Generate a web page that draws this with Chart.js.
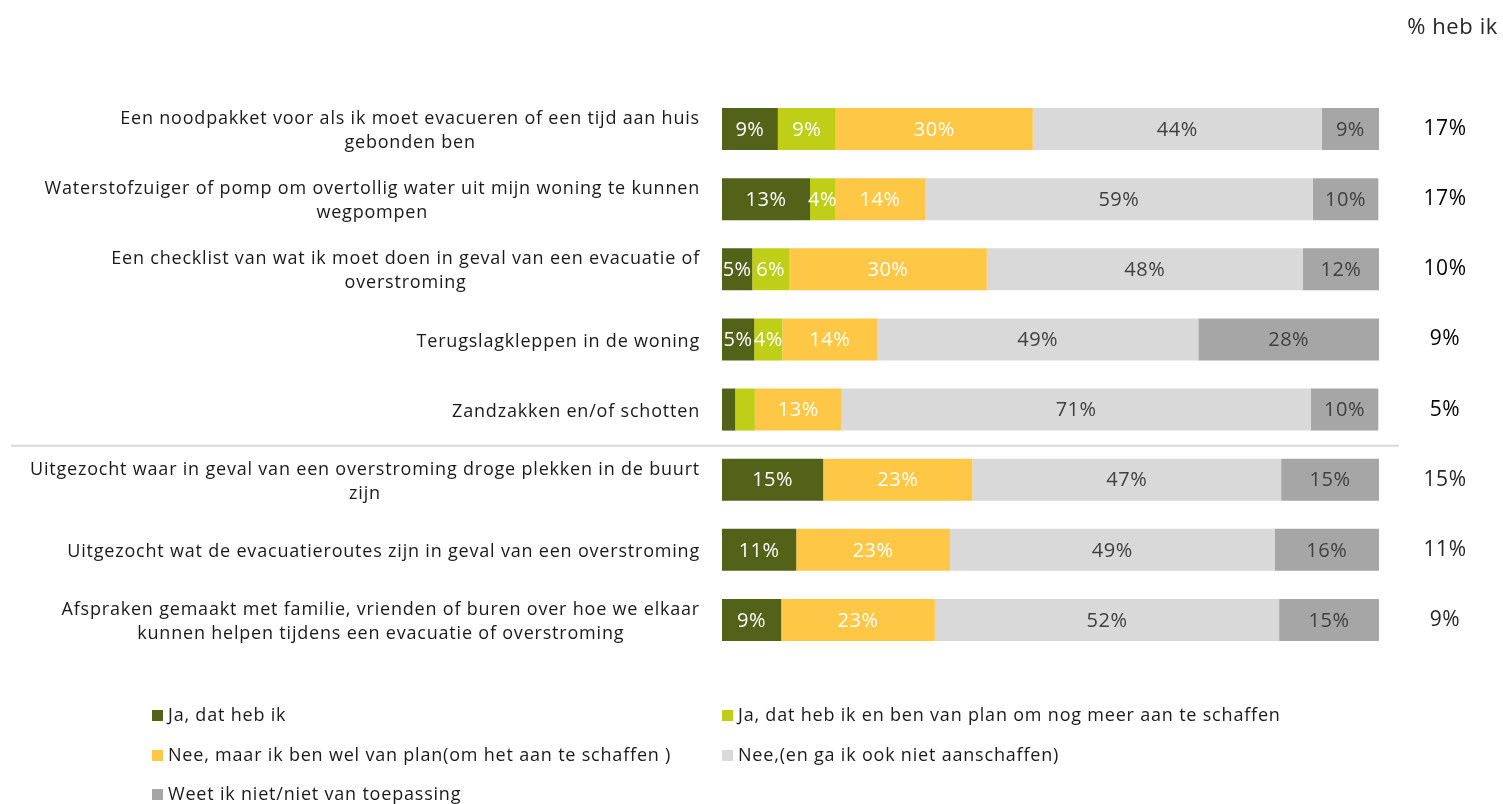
<!DOCTYPE html>
<html>
<head>
<meta charset="utf-8">
<script src="https://cdn.jsdelivr.net/npm/chart.js@4/dist/chart.umd.min.js"></script>
<style>
  html, body { margin: 0; padding: 0; background: #fff; }
  #wrap { width: 1503px; height: 804px; position: relative; }
</style>
</head>
<body>
<div id="wrap"><canvas id="chart"></canvas></div>
<script>
const categories = [
  ['Een noodpakket voor als ik moet evacueren of een tijd aan huis', 'gebonden ben'],
  ['Waterstofzuiger of pomp om overtollig water uit mijn woning te kunnen', 'wegpompen'],
  ['Een checklist van wat ik moet doen in geval van een evacuatie of', 'overstroming'],
  ['Terugslagkleppen in de woning'],
  ['Zandzakken en/of schotten'],
  ['Uitgezocht waar in geval van een overstroming droge plekken in de buurt', 'zijn'],
  ['Uitgezocht wat de evacuatieroutes zijn in geval van een overstroming'],
  ['Afspraken gemaakt met familie, vrienden of buren over hoe we elkaar', 'kunnen helpen tijdens een evacuatie of overstroming']
];

const jaHeb = [8.5, 13.4, 4.6, 4.9, 2.0, 15.4, 11.3, 9.0];
const jaMeer = [8.8, 3.8, 5.6, 4.3, 3.0, 0, 0, 0];
const neePlan = [30.0, 13.7, 30.1, 14.4, 13.2, 22.7, 23.4, 23.4];
const neeNiet = [44.0, 59.0, 48.1, 48.9, 71.4, 47.0, 49.4, 52.4];
const weetNiet = [8.7, 10.0, 11.6, 27.5, 10.3, 14.9, 15.9, 15.2];

const hebIk = ['17%', '17%', '10%', '9%', '5%', '15%', '11%', '9%'];

const seriesNames = [
  'Ja, dat heb ik',
  'Ja, dat heb ik en ben van plan om nog meer aan te schaffen',
  'Nee, maar ik ben wel van plan(om het aan te schaffen )',
  'Nee,(en ga ik ook niet aanschaffen)',
  'Weet ik niet/niet van toepassing'
];
const seriesColors = ['#536119', '#BFCE17', '#FEC746', '#D9D9D9', '#A6A6A6'];
const labelColors = ['#ffffff', '#ffffff', '#ffffff', '#404040', '#404040'];

const FONT = '"Open Sans", sans-serif';

const extras = {
  id: 'extras',
  afterDatasetsDraw(chart) {
    const ctx = chart.ctx;
    const y = chart.scales.y;
    ctx.save();

    // values inside the bars
    ctx.font = '20px ' + FONT;
    ctx.letterSpacing = '0.5px';
    ctx.textAlign = 'center';
    ctx.textBaseline = 'middle';
    chart.data.datasets.forEach((ds, i) => {
      const meta = chart.getDatasetMeta(i);
      meta.data.forEach((bar, j) => {
        const v = ds.data[j];
        if (!v || v < 3.5) return;
        ctx.fillStyle = labelColors[i];
        ctx.fillText(Math.round(v) + '%', (bar.x + bar.base) / 2, bar.y + 1);
      });
    });

    // category labels
    ctx.fillStyle = '#1a1a1a';
    ctx.font = '18px ' + FONT;
    ctx.letterSpacing = '0.8px';
    categories.forEach((lines, j) => {
      const cy = y.getPixelForValue(j) + 2;
      if (lines.length === 1) {
        ctx.textAlign = 'right';
        ctx.fillText(lines[0], 700, cy);
      } else {
        const w = ctx.measureText(lines[0]).width;
        ctx.textAlign = 'right';
        ctx.fillText(lines[0], 700, cy - 12);
        ctx.textAlign = 'center';
        ctx.fillText(lines[1], 700 - w / 2, cy + 12);
      }
    });

    // right column
    ctx.font = '21px ' + FONT;
    ctx.letterSpacing = '0.6px';
    ctx.textAlign = 'center';
    hebIk.forEach((t, j) => {
      ctx.fillStyle = j < 5 ? '#000000' : '#262626';
      ctx.fillText(t, 1445, y.getPixelForValue(j));
    });
    ctx.fillStyle = '#262626';
    ctx.font = '22px ' + FONT;
    ctx.letterSpacing = '0.6px';
    ctx.textAlign = 'right';
    ctx.fillText('% heb ik', 1498, 28);

    // separator between groups
    const sy = (y.getPixelForValue(4) + y.getPixelForValue(5)) / 2 + 1;
    ctx.strokeStyle = '#D9D9D9';
    ctx.lineWidth = 2;
    ctx.beginPath();
    ctx.moveTo(11, sy);
    ctx.lineTo(1399, sy);
    ctx.stroke();

    // legend
    const pos = [[152, 716], [722, 716], [152, 756], [722, 756], [152, 795]];
    ctx.font = '18px ' + FONT;
    ctx.letterSpacing = '0.8px';
    ctx.textAlign = 'left';
    seriesNames.forEach((name, i) => {
      const [lx, ly] = pos[i];
      ctx.fillStyle = seriesColors[i];
      ctx.fillRect(lx, ly - 6, 11, 11);
      ctx.fillStyle = '#1a1a1a';
      ctx.fillText(name, lx + 16, ly);
    });
    ctx.restore();
  }
};

const datasets = [jaHeb, jaMeer, neePlan, neeNiet, weetNiet].map((d, i) => ({
  label: seriesNames[i],
  data: d,
  backgroundColor: seriesColors[i],
  borderWidth: 0,
  barPercentage: 0.6,
  categoryPercentage: 1.0
}));

new Chart(document.getElementById('chart'), {
  type: 'bar',
  data: {
    labels: categories.map(c => c.join(' ')),
    datasets: datasets
  },
  options: {
    indexAxis: 'y',
    responsive: true,
    maintainAspectRatio: false,
    animation: false,
    layout: { padding: { left: 722, right: 124, top: 94, bottom: 149 } },
    scales: {
      x: { stacked: true, min: 0, max: 100, display: false },
      y: { stacked: true, display: false }
    },
    plugins: {
      legend: { display: false },
      tooltip: { enabled: false }
    }
  },
  plugins: [extras]
});
</script>
</body>
</html>
